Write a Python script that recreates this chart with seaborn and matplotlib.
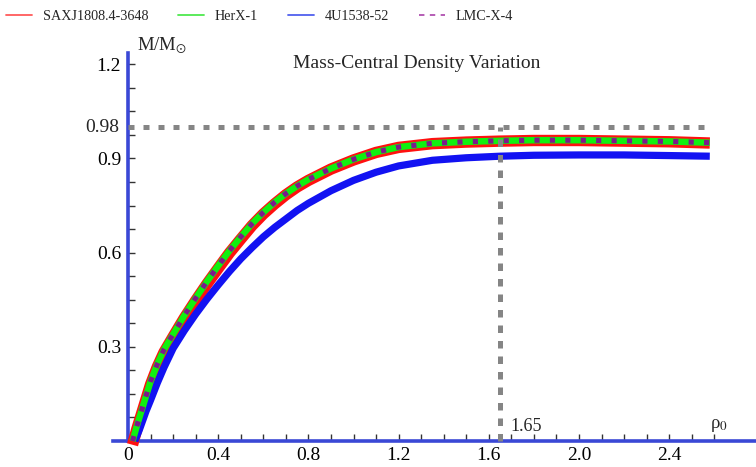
import matplotlib
matplotlib.use("Agg")
import matplotlib.pyplot as plt
import seaborn as sns
import pandas as pd
from matplotlib.lines import Line2D
from matplotlib.ticker import FixedLocator

# ---------------- data ----------------
rho_her = [0.02, 0.04, 0.07, 0.1, 0.13, 0.16, 0.2, 0.25, 0.3, 0.35, 0.4, 0.45,
           0.5, 0.55, 0.6, 0.65, 0.7, 0.75, 0.8, 0.9, 1.0, 1.1, 1.2, 1.35,
           1.5, 1.65, 1.8, 2.0, 2.2, 2.4, 2.58]
m_her = [0.0, 0.05, 0.12, 0.19, 0.245, 0.292, 0.34, 0.40, 0.455, 0.508,
         0.558, 0.606, 0.65, 0.692, 0.728, 0.76, 0.788, 0.812, 0.833, 0.868,
         0.897, 0.92, 0.936, 0.948, 0.953, 0.956, 0.958, 0.958, 0.956,
         0.954, 0.950]
rho_sax = rho_her
m_sax = [-0.012, 0.04, 0.11, 0.18, 0.236, 0.283, 0.332, 0.392, 0.447, 0.5,
         0.55, 0.599, 0.643, 0.686, 0.723, 0.755, 0.784, 0.809, 0.83, 0.866,
         0.895, 0.919, 0.935, 0.947, 0.952, 0.955, 0.957, 0.957, 0.955,
         0.953, 0.949]
rho_4u = [0.03, 0.05, 0.08, 0.1, 0.13, 0.16, 0.2, 0.25, 0.3, 0.35, 0.4, 0.45,
          0.5, 0.55, 0.6, 0.65, 0.7, 0.75, 0.8, 0.9, 1.0, 1.1, 1.2, 1.35,
          1.5, 1.65, 1.8, 2.0, 2.2, 2.4, 2.58]
m_4u = [0.0, 0.035, 0.095, 0.13, 0.185, 0.235, 0.295, 0.352, 0.404, 0.452,
        0.497, 0.54, 0.58, 0.616, 0.65, 0.68, 0.707, 0.734, 0.757, 0.797,
        0.83, 0.856, 0.876, 0.894, 0.902, 0.907, 0.91, 0.911, 0.911, 0.909,
        0.907]
rho_lmc = rho_her
m_lmc = m_her

series_names = ["SAXJ1808.4-3648", "HerX-1", "4U1538-52", "LMC-X-4"]

x_major = [0, 0.4, 0.8, 1.2, 1.6, 2.0, 2.4]
x_labels = ["0", "0.4", "0.8", "1.2", "1.6", "2.0", "2.4"]
y_major = [0.3, 0.6, 0.9, 1.2]
y_labels = ["0.3", "0.6", "0.9", "1.2"]

ref_rho = 1.65          # vertical reference
ref_rho_label = "1.65"
ref_mass = 1.0          # drawn position of the horizontal reference
ref_mass_label = "0.98"
ref_rho_end = 2.56

title = "Mass-Central Density Variation"

# ---------------- style ----------------
sns.set_style("white")
plt.rcParams["font.family"] = ["Liberation Serif", "DejaVu Sans"]
plt.rcParams["mathtext.fontset"] = "stix"

fig = plt.figure(figsize=(7.56, 4.67), dpi=100)
ax = fig.add_axes([0, 0, 1, 1])

W, H = 756, 467
x0_px, y0_px = 128, 441
sx, sy = 225.5, 314.0
ax.set_xlim(-x0_px / sx, (W - x0_px) / sx)
ax.set_ylim(-(H - y0_px) / sy, y0_px / sy)

df = pd.concat([
    pd.DataFrame({"rho": rho_sax, "m": m_sax, "s": series_names[0]}),
    pd.DataFrame({"rho": rho_her, "m": m_her, "s": series_names[1]}),
    pd.DataFrame({"rho": rho_4u, "m": m_4u, "s": series_names[2]}),
    pd.DataFrame({"rho": rho_lmc, "m": m_lmc, "s": series_names[3]}),
])

def draw(name, color, lw, z, dashes=None):
    d = df[df["s"] == name]
    sns.lineplot(data=d, x="rho", y="m", ax=ax, color=color, linewidth=lw,
                 zorder=z, legend=False, estimator=None, sort=False)
    line = ax.lines[-1]
    line.set_solid_capstyle("butt")
    line.set_solid_joinstyle("round")
    if dashes is not None:
        line.set_dashes(dashes)
        line.set_dash_capstyle("butt")

draw(series_names[0], "#ff1010", 8.2, 3)
draw(series_names[2], "#1212f2", 5.2, 3)
draw(series_names[1], "#10f010", 4.7, 4)
draw(series_names[3], "#7d1a8c", 3.7, 5, dashes=(1.0, 2.0))

# reference lines
ax.hlines(ref_mass, 0, ref_rho_end, colors="#858585", linewidth=3.6,
          linestyles=(0, (1.2, 1.8)), zorder=6)
ax.vlines(ref_rho, 0, ref_mass, colors="#858585", linewidth=3.6,
          linestyles=(0, (1.5, 1.6)), zorder=6)

# axes (Mathematica-like, crossing at origin)
axis_blue = "#3a48d6"
for s in ["top", "right"]:
    ax.spines[s].set_visible(False)
ax.spines["left"].set_position(("data", 0))
ax.spines["bottom"].set_position(("data", 0))
ax.spines["left"].set_bounds(0, 1.236)
ax.spines["bottom"].set_bounds(-0.065, (W - x0_px) / sx)
for s in ["left", "bottom"]:
    ax.spines[s].set_color(axis_blue)
    ax.spines[s].set_linewidth(2.6)
    ax.spines[s].set_zorder(2)

ax.xaxis.set_major_locator(FixedLocator(x_major))
ax.set_xticklabels(x_labels)
ax.xaxis.set_minor_locator(FixedLocator([i / 10 for i in range(1, 27)]))
ax.yaxis.set_major_locator(FixedLocator(y_major))
ax.set_yticklabels(y_labels)
ax.yaxis.set_minor_locator(FixedLocator([i * 0.075 for i in range(1, 17)]))
ax.tick_params(which="both", bottom=True, left=True, top=False, right=False,
               direction="in", length=5.0, width=1.0,
               color="#333333", labelsize=14, labelcolor="black")
ax.tick_params(axis="x", which="major", pad=4)
ax.tick_params(axis="y", which="major", pad=5)
ax.set_xlabel("")
ax.set_ylabel("")

# texts
ax.text(-0.038, ref_mass, ref_mass_label, ha="right",
        va="center", fontsize=14)
ax.text(ref_rho + 0.045, 0.045, ref_rho_label, ha="left", va="center",
        fontsize=13)
ax.text(2.58, 0.05, "ρ$_0$", ha="left", va="center", fontsize=13.5)
ax.text(0.04, 1.257, "M/M$_{\\odot}$", ha="left", va="center", fontsize=13.5)
fig.text(417 / W, 1 - 64 / H, title, ha="center", va="center", fontsize=14)

# legend
handles = [
    Line2D([], [], color="#ff5a5a", lw=1.3),
    Line2D([], [], color="#4ee84e", lw=1.3),
    Line2D([], [], color="#5060ee", lw=1.3),
    Line2D([], [], color="#b050b0", lw=1.3, ls=(0, (3, 3))),
]
fig.legend(handles, series_names, ncol=4, frameon=False, loc="center left",
           bbox_to_anchor=(6 / W, 1 - 16 / H), borderpad=0, borderaxespad=0,
           fontsize=10.2, handlelength=1.85, handletextpad=0.75,
           columnspacing=2.1)

fig.savefig("out.png", dpi=100)
